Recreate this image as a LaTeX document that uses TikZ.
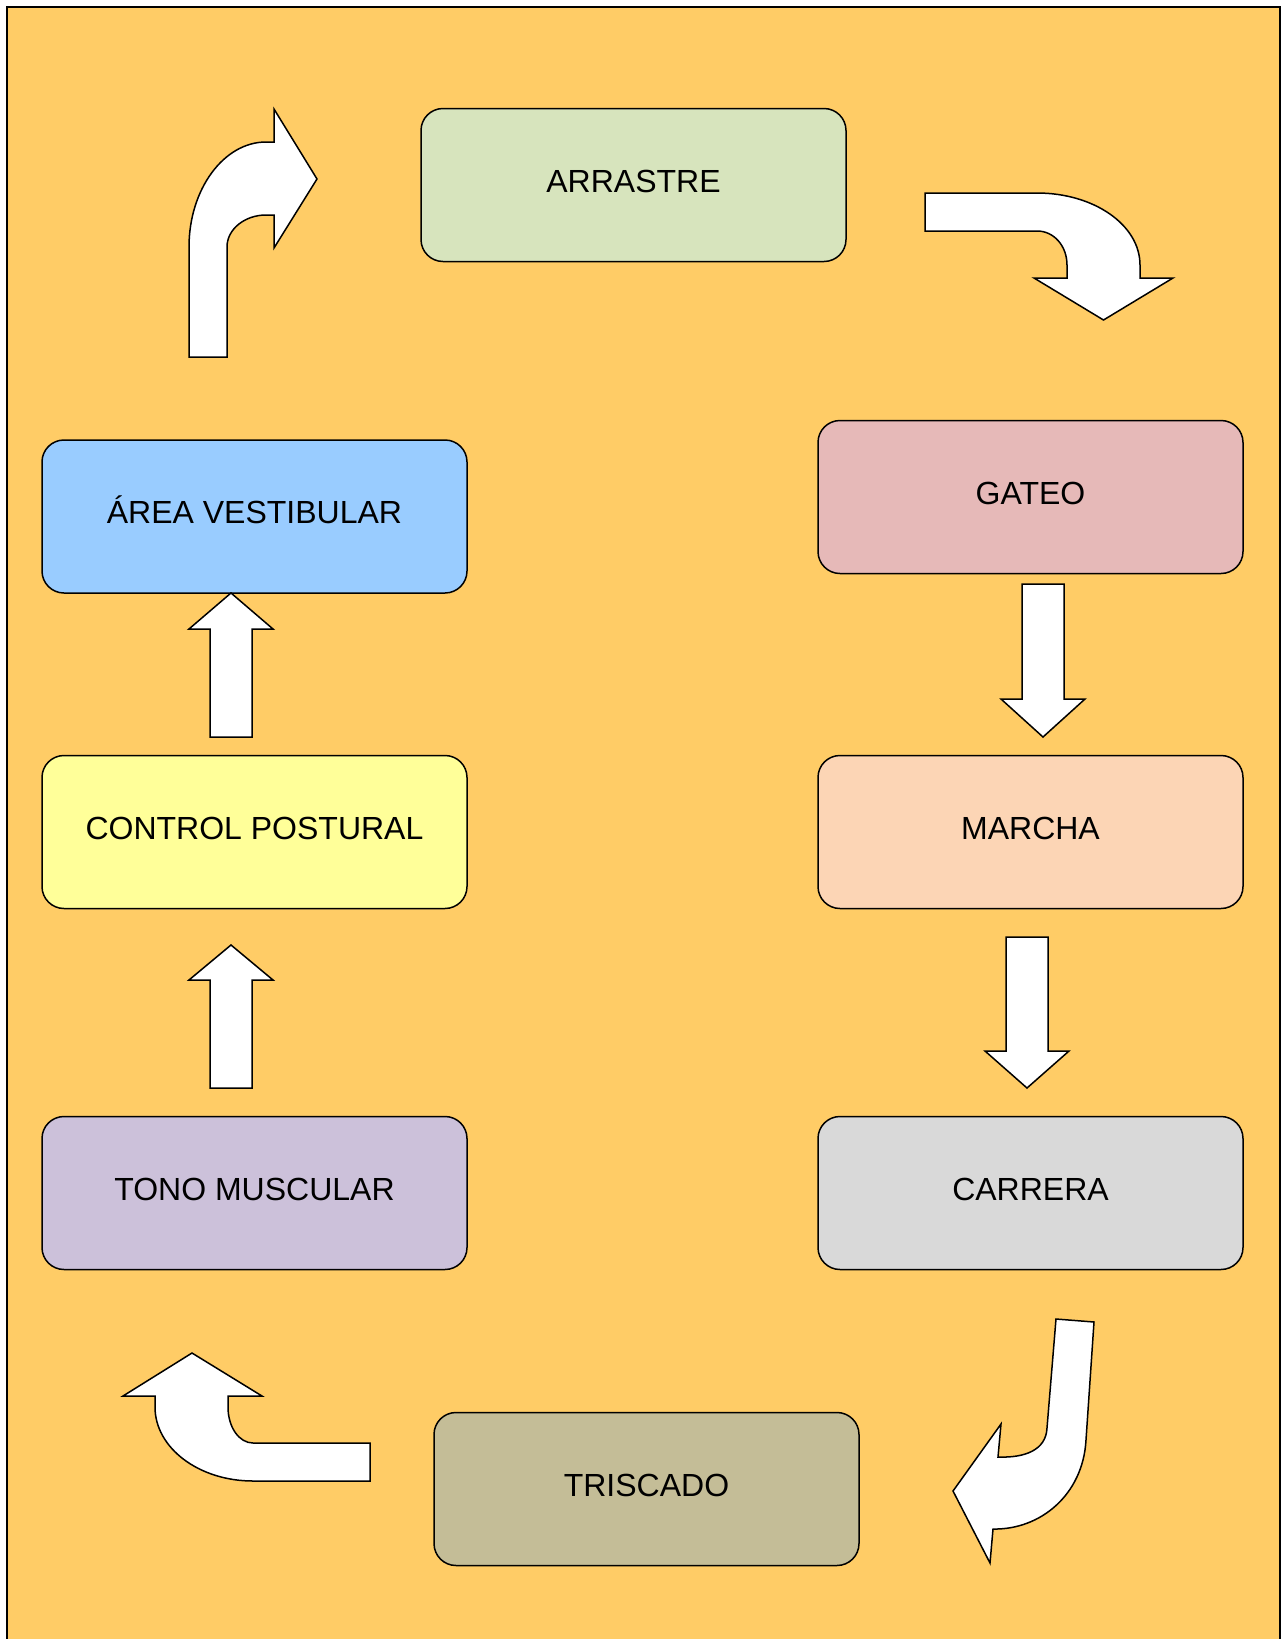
\documentclass[tikz,border=0pt]{standalone}
\usepackage{fontspec}
\setmainfont{Liberation Sans}
\usepackage{tikz}
\usepackage{xcolor}
\definecolor{fondo}{HTML}{FFCC66}
\definecolor{colArrastre}{HTML}{D7E4BD}
\definecolor{colGateo}{HTML}{E6B9B8}
\definecolor{colMarcha}{HTML}{FCD5B5}
\definecolor{colCarrera}{HTML}{D9D9D9}
\definecolor{colTriscado}{HTML}{C4BD97}
\definecolor{colTono}{HTML}{CCC1DA}
\definecolor{colControl}{HTML}{FFFF99}
\definecolor{colArea}{HTML}{99CCFF}

\begin{document}
\begin{tikzpicture}[x=1pt, y=-1pt,
  box/.style={draw=black, line width=1.5pt, rounded corners=22pt,
              minimum width=425pt, minimum height=153pt, inner sep=0pt,
              text height=23pt, text depth=9pt,
              font=\fontsize{32}{38}\selectfont},
  blockarrow/.style={draw=black, fill=white, line width=1.5pt, line join=miter}]

% ── Rahmen ───────────────────────────────────────────────────────────
\useasboundingbox (0,0) rectangle (1281,1639);
\clip (0,0) rectangle (1281,1639);
\fill[white] (0,0) rectangle (1281,1639);
\draw[fill=fondo, line width=2pt] (7,7) rectangle (1280,1700);

% ── Kästen ───────────────────────────────────────────────────────────
\foreach \nm/\cx/\cy/\col/\txt in {
  arrastre/633.5/185/colArrastre/ARRASTRE,
  gateo/1030.5/497/colGateo/GATEO,
  marcha/1030.5/832/colMarcha/MARCHA,
  carrera/1030.5/1193/colCarrera/CARRERA,
  triscado/646.5/1489/colTriscado/TRISCADO,
  tono/254.5/1193/colTono/TONO MUSCULAR,
  control/254.5/832/colControl/CONTROL POSTURAL,
  area/254.5/516.5/colArea/ÁREA VESTIBULAR}
{
  \node[box, fill=\col] (\nm) at (\cx,\cy) {\txt};
}

% ── Gerade Blockpfeile (x Mitte / Schaft / Kopfbasis / Spitze) ──────
\foreach \ax/\ya/\yb/\yc in {231/737/629/593, 231/1088/980/945,
                             1043/584/699/737, 1027/937/1051/1088}
{
  \draw[blockarrow] (\ax-21,\ya) -- (\ax-21,\yb) -- (\ax-42,\yb)
    -- (\ax,\yc) -- (\ax+42,\yb) -- (\ax+21,\yb) -- (\ax+21,\ya) -- cycle;
}

% ── Gebogene Pfeile ──────────────────────────────────────────────────
% area -> arrastre
\draw[blockarrow] (189,357) -- (189,247) .. controls (189,189) and (224,142) .. (266,142)
  -- (274,142) -- (274,109) -- (317,179) -- (274,248) -- (274,215) -- (266,215)
  .. controls (245,215) and (227,229) .. (227,247) -- (227,357) -- cycle;

% arrastre -> gateo
\draw[blockarrow] (925,193) -- (1037,193) .. controls (1094,193) and (1140,225) .. (1140,265)
  -- (1140,278) -- (1173,278) -- (1103.5,320) -- (1034,278) -- (1067,278) -- (1067,265)
  .. controls (1067,246) and (1054,231) .. (1037,231) -- (925,231) -- cycle;

% carrera -> triscado
\draw[blockarrow] (1056,1319) -- (1094,1322) -- (1086,1440)
  .. controls (1083,1495) and (1040,1530) .. (993,1529)
  -- (990,1563) -- (953,1491) -- (1001,1424) -- (998,1457)
  .. controls (1025,1458) and (1046,1450) .. (1047,1428) -- cycle;

% triscado -> tono
\draw[blockarrow] (370,1443) -- (253,1443) .. controls (239,1443) and (228,1427) .. (228,1407)
  -- (228,1396) -- (262,1396) -- (192,1353) -- (123,1396) -- (155,1396) -- (155,1407)
  .. controls (155,1448) and (199,1481) .. (253,1481) -- (370,1481) -- cycle;

\end{tikzpicture}
\end{document}
